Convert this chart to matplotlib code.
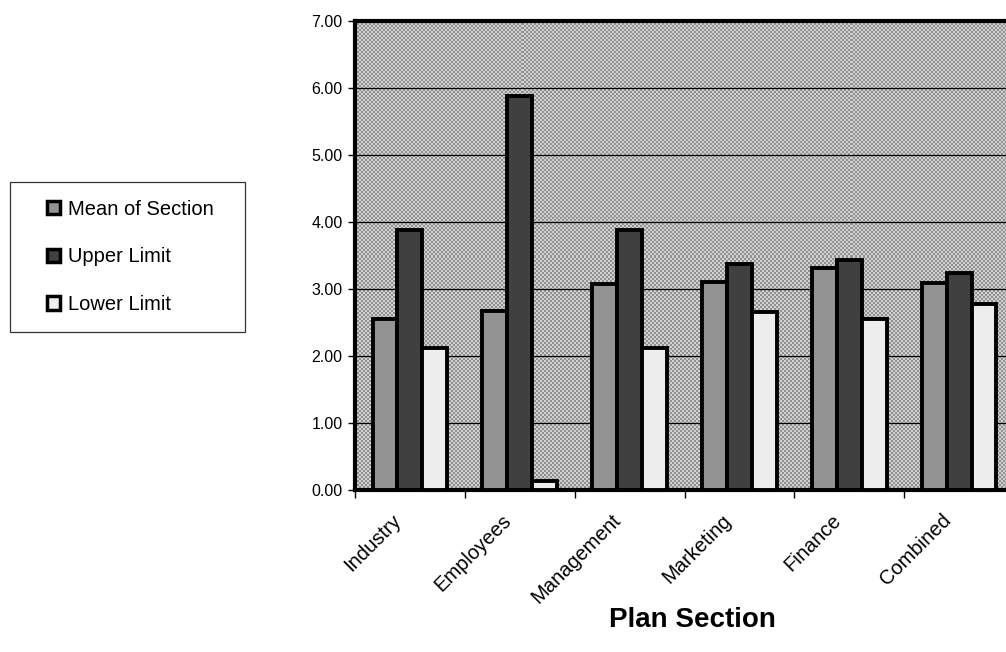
import numpy as np
import matplotlib
matplotlib.use("Agg")
import matplotlib.pyplot as plt
from matplotlib.patches import Patch, Rectangle
from matplotlib.legend_handler import HandlerPatch

plt.rcParams["font.family"] = ["Liberation Sans", "DejaVu Sans"]

categories = ["Industry", "Employees", "Management", "Marketing", "Finance", "Combined"]
mean_of_section = [2.55, 2.67, 3.08, 3.11, 3.31, 3.09]
upper_limit = [3.88, 5.88, 3.88, 3.37, 3.44, 3.24]
lower_limit = [2.12, 0.13, 2.12, 2.65, 2.55, 2.78]
y_ticks = [0, 1, 2, 3, 4, 5, 6, 7]

series = [
    ("Mean of Section", mean_of_section, "#939393"),
    ("Upper Limit", upper_limit, "#404040"),
    ("Lower Limit", lower_limit, "#ededed"),
]

W, H = 1006, 652
fig = plt.figure(figsize=(W / 100, H / 100), dpi=100)
ax = fig.add_axes([355 / W, 1 - 490 / H, 659 / W, 469 / H])

# halftone-like checker texture for the plot area
ny, nx = 469 // 2, 659 // 2
checker = (np.add.outer(np.arange(ny), np.arange(nx)) % 2).astype(float)
ax.imshow(0.57 + 0.25 * checker, cmap="gray", vmin=0, vmax=1,
          extent=(0, 1, 0, 1), transform=ax.transAxes,
          interpolation="nearest", aspect="auto", zorder=0)

x = np.arange(len(categories))
bw = 0.227
for i, (name, vals, col) in enumerate(series):
    ax.bar(x + (i - 1) * bw, vals, width=bw, color=col, edgecolor="black",
           linewidth=2.8, label=name, zorder=3)

ax.set_xlim(-0.5, len(categories) - 0.5)
ax.set_ylim(0, 7)
ax.set_yticks(y_ticks)
ax.set_yticklabels([f"{v:.2f}" for v in y_ticks], fontsize=11.5)
ax.yaxis.grid(True, color="black", linewidth=0.9, zorder=1)
ax.set_axisbelow(True)

# category boundaries get the visible ticks; labels sit on hidden minor ticks,
# nudged a little left so the slanted text ends under each group
ax.set_xticks(np.arange(len(categories) + 1) - 0.5)
ax.set_xticklabels([])
ax.set_xticks(x - 0.165, minor=True)
ax.set_xticklabels(categories, minor=True, rotation=45, ha="right",
                   rotation_mode="anchor", fontsize=14.5)
ax.tick_params(axis="x", which="minor", length=0, pad=15)
ax.tick_params(axis="x", which="major", length=6, width=1, direction="out")
ax.tick_params(axis="y", length=5, width=1, direction="out", pad=4)

for s in ["left", "top", "bottom"]:
    ax.spines[s].set_linewidth(3)
    ax.spines[s].set_color("black")
ax.spines["right"].set_visible(False)

fig.text(692 / W, 1 - 620 / H, "Plan Section", ha="center", va="center",
         fontsize=20, fontweight="bold")


def square_at_right(legend, orig_handle, xdescent, ydescent, width, height, fontsize):
    # small square key sitting at the right end of the handle box
    return Rectangle((-xdescent + width - height, -ydescent), height, height)


handles = [Patch(facecolor=c, edgecolor="black", linewidth=2.5) for _, _, c in series]
leg = fig.legend(handles, [s[0] for s in series], loc="upper left",
                 bbox_to_anchor=(10 / W, 1 - 182 / H, 235 / W, 0), mode="expand",
                 fontsize=14.5, frameon=True, fancybox=False, edgecolor="black",
                 handlelength=1.6, handleheight=0.65, handletextpad=0.4,
                 labelspacing=1.42, borderpad=0.88, borderaxespad=0,
                 handler_map={Patch: HandlerPatch(patch_func=square_at_right)})
leg.get_frame().set_linewidth(0.9)

fig.savefig("out.png", dpi=100)
